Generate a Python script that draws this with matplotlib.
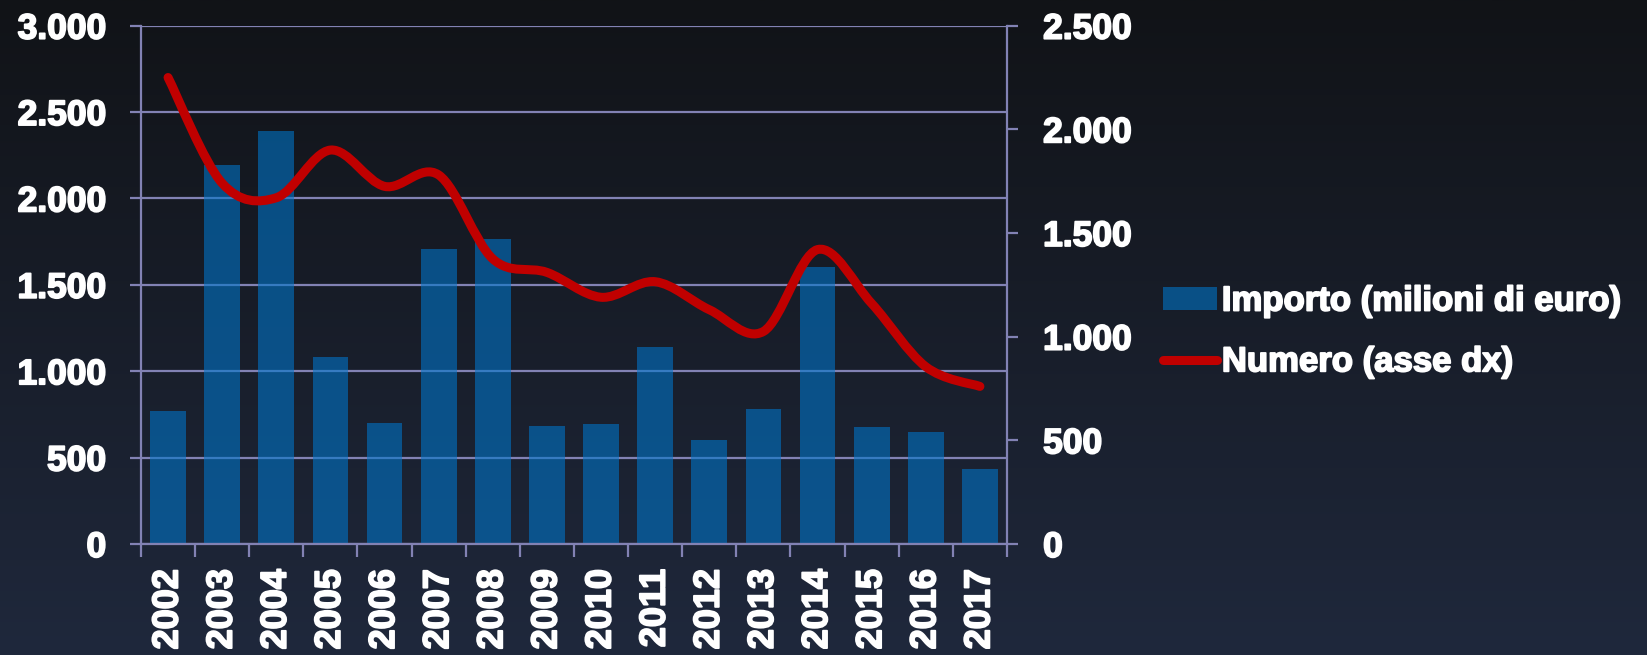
import numpy as np
import matplotlib
matplotlib.use("Agg")
import matplotlib.pyplot as plt
import matplotlib.patheffects as pe
from matplotlib.path import Path
from matplotlib.patches import PathPatch, Patch
from matplotlib.lines import Line2D
from matplotlib.ticker import FuncFormatter, FixedLocator

years = ["2002", "2003", "2004", "2005", "2006", "2007", "2008", "2009",
         "2010", "2011", "2012", "2013", "2014", "2015", "2016", "2017"]
importo = [770, 2195, 2390, 1080, 700, 1710, 1765, 685,
           695, 1140, 600, 780, 1605, 675, 650, 435]
numero = [2250, 1740, 1670, 1900, 1725, 1780, 1375, 1310,
          1190, 1265, 1130, 1025, 1420, 1160, 855, 760]

label_bar = "Importo (milioni di euro)"
label_line = "Numero (asse dx)"

plt.rcParams['font.family'] = ['Liberation Sans', 'DejaVu Sans']
plt.rcParams['font.weight'] = 'bold'

lav = '#8282b4'
bar_col = '#0076cc'
red = '#c00000'
heavy = [pe.withStroke(linewidth=1.3, foreground='white')]


def thousands(v, pos):
    return f"{v:,.0f}".replace(",", ".")


def smooth_path(xs, ys):
    # excel-like smoothed line: cubic bezier segments through every point
    pts = np.column_stack([xs, ys]).astype(float)
    ext = np.vstack([pts[0], pts, pts[-1]])
    verts = [pts[0]]
    codes = [Path.MOVETO]
    for i in range(len(pts) - 1):
        p0, p1, p2, p3 = ext[i], ext[i + 1], ext[i + 2], ext[i + 3]
        verts += [p1 + (p2 - p0) / 6, p2 - (p3 - p1) / 6, p2]
        codes += [Path.CURVE4] * 3
    return Path(verts, codes)


fig = plt.figure(figsize=(16.47, 6.55), dpi=100)

# background gradient
bg = fig.add_axes([0, 0, 1, 1], zorder=-1)
grad = np.linspace(0, 1, 256).reshape(-1, 1)
top = np.array([17, 19, 23]) / 255
bottom = np.array([31, 40, 60]) / 255
img = top + grad[..., None] * (bottom - top)
bg.imshow(img, aspect='auto', extent=[0, 1, 0, 1])
bg.axis('off')

ax = fig.add_axes([0.0856, 0.1695, 0.5258, 0.7913])
ax.set_facecolor('none')
x = np.arange(len(years))
ax.bar(x, importo, width=0.66, color=bar_col, alpha=0.58, zorder=2)
ax.set_xlim(-0.5, len(years) - 0.5)
ax.set_ylim(0, 3000)
ax.set_yticks(np.arange(0, 3001, 500))
ax.yaxis.set_major_formatter(FuncFormatter(thousands))
ax.yaxis.grid(True, color=lav, lw=1.6, zorder=1)
ax.set_axisbelow(True)

ax.set_xticks(x)
ax.set_xticklabels(years, rotation=90)
ax.xaxis.set_minor_locator(FixedLocator(np.arange(-0.5, len(years), 1.0)))
ax.tick_params(axis='x', which='major', length=0, pad=18, labelsize=26, labelcolor='white')
ax.tick_params(axis='x', which='minor', length=9, width=1.6, color=lav)
ax.tick_params(axis='y', length=8, width=1.6, color=lav, pad=17, labelsize=25.5, labelcolor='white')

for s in ['top', 'right']:
    ax.spines[s].set_visible(False)
for s in ['left', 'bottom']:
    ax.spines[s].set_color(lav)
    ax.spines[s].set_linewidth(1.6)

ax2 = ax.twinx()
ax2.set_ylim(0, 2500)
ax2.set_yticks(np.arange(0, 2501, 500))
ax2.yaxis.set_major_formatter(FuncFormatter(thousands))
ax2.tick_params(axis='y', length=8, width=1.6, color=lav, pad=18, labelsize=25.5, labelcolor='white')
for s in ['top', 'left', 'bottom']:
    ax2.spines[s].set_visible(False)
ax2.spines['right'].set_color(lav)
ax2.spines['right'].set_linewidth(1.6)

for lbl in ax.get_xticklabels() + ax.get_yticklabels() + ax2.get_yticklabels():
    lbl.set_path_effects(heavy)

line = PathPatch(smooth_path(x, numero), fill=False, edgecolor=red, lw=6.5,
                 capstyle='round', joinstyle='round', zorder=3)
ax2.add_patch(line)

handles = [Patch(facecolor=bar_col, alpha=0.58, label=label_bar),
           Line2D([], [], color=red, lw=6.5, solid_capstyle='round', label=label_line)]
leg = fig.legend(handles=handles, loc='center left', bbox_to_anchor=(0.706, 0.494),
                 frameon=False, fontsize=25, handlelength=1.55, handleheight=0.62,
                 handletextpad=0.15, labelspacing=0.8, borderpad=0, borderaxespad=0)
for t in leg.get_texts():
    t.set_color('white')
    t.set_path_effects(heavy)

fig.savefig("out.png", dpi=100)
